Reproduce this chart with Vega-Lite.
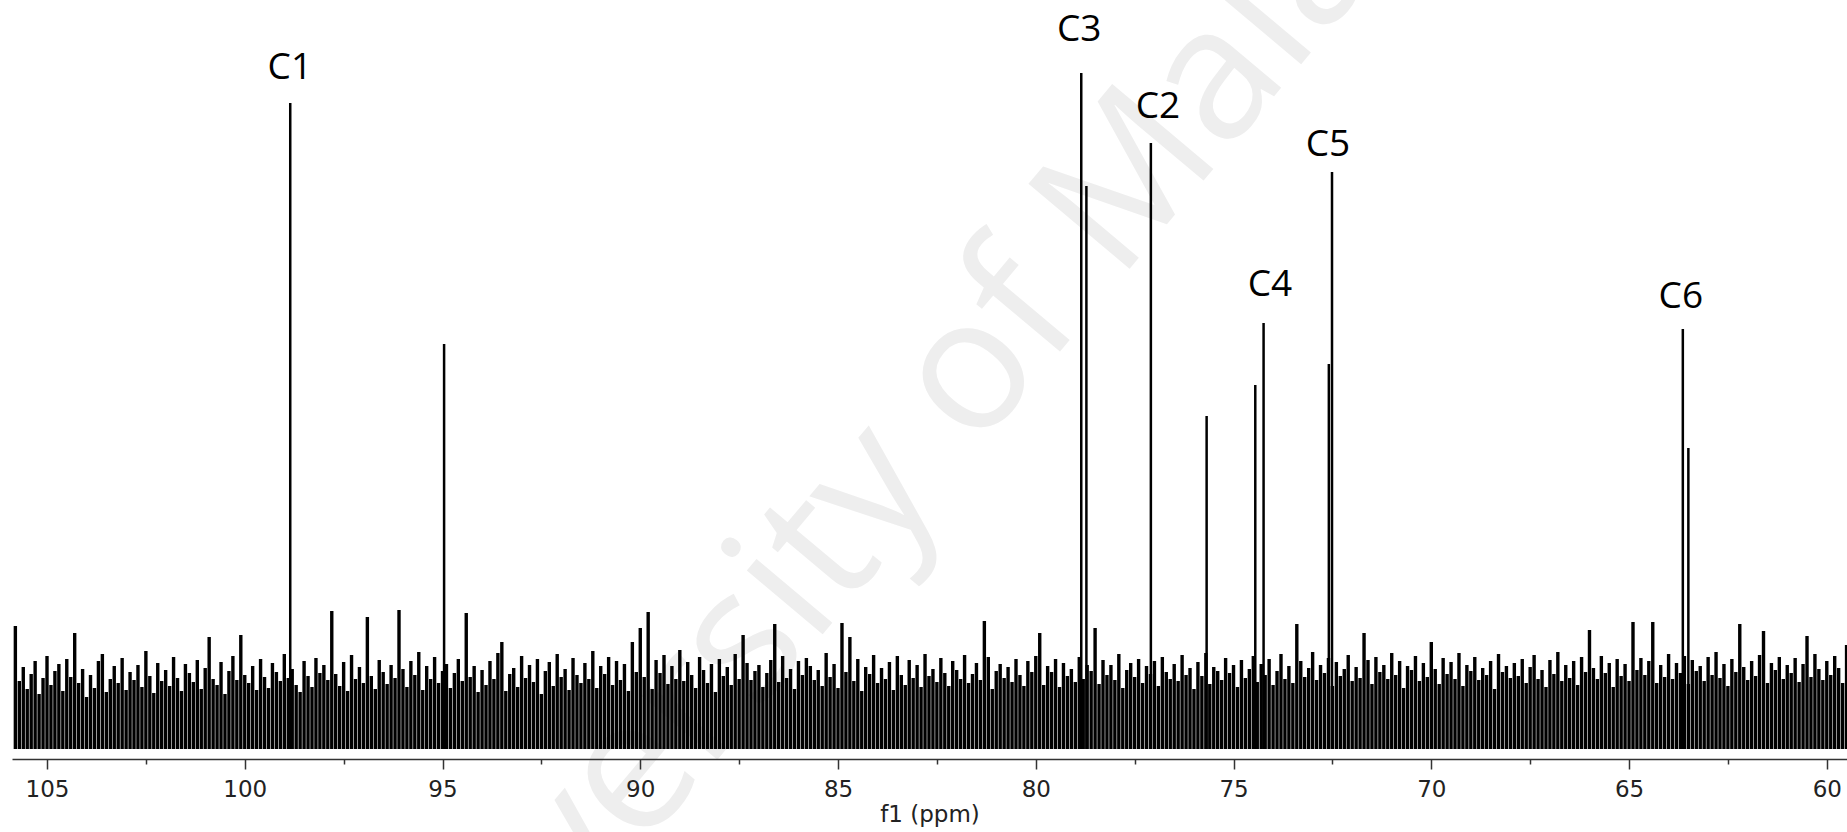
{
  "$schema": "https://vega.github.io/schema/vega-lite/v6.json",
  "autosize": "none",
  "width": 1835,
  "height": 759,
  "padding": {"left": 12, "top": 0, "right": 0, "bottom": 73},
  "background": "white",
  "config": {"view": {"stroke": null}},
  "datasets": {
    "wm": [{"p": 83.2, "v": 305, "t": "University of Malaya"}],
    "noise": [
      {"p":105.8,"v":123},{"p":105.7,"v":68},{"p":105.6,"v":82},{"p":105.5,"v":60},{"p":105.4,"v":75},{"p":105.3,"v":88},{"p":105.2,"v":55},{"p":105.1,"v":71},{"p":105.0,"v":93},
      {"p":104.9,"v":64},{"p":104.8,"v":78},{"p":104.7,"v":85},{"p":104.6,"v":58},{"p":104.5,"v":90},{"p":104.4,"v":72},{"p":104.3,"v":116},{"p":104.2,"v":66},{"p":104.1,"v":80},{"p":104.0,"v":52},
      {"p":103.9,"v":74},{"p":103.8,"v":61},{"p":103.7,"v":88},{"p":103.6,"v":95},{"p":103.5,"v":57},{"p":103.4,"v":70},{"p":103.3,"v":83},{"p":103.2,"v":66},{"p":103.1,"v":91},{"p":103.0,"v":59},
      {"p":102.9,"v":77},{"p":102.8,"v":69},{"p":102.7,"v":84},{"p":102.6,"v":62},{"p":102.5,"v":98},{"p":102.4,"v":73},{"p":102.3,"v":56},{"p":102.2,"v":86},{"p":102.1,"v":68},{"p":102.0,"v":79},
      {"p":101.9,"v":63},{"p":101.8,"v":92},{"p":101.7,"v":71},{"p":101.6,"v":58},{"p":101.5,"v":85},{"p":101.4,"v":76},{"p":101.3,"v":67},{"p":101.2,"v":89},{"p":101.1,"v":60},{"p":101.0,"v":81},
      {"p":100.9,"v":112},{"p":100.8,"v":70},{"p":100.7,"v":64},{"p":100.6,"v":87},{"p":100.5,"v":55},{"p":100.4,"v":78},{"p":100.3,"v":93},{"p":100.2,"v":69},{"p":100.1,"v":114},{"p":100.0,"v":74},
      {"p":99.9,"v":66},{"p":99.8,"v":83},{"p":99.7,"v":59},{"p":99.6,"v":90},{"p":99.5,"v":72},{"p":99.4,"v":61},{"p":99.3,"v":86},{"p":99.2,"v":77},{"p":99.1,"v":68},{"p":99.0,"v":95},
      {"p":98.9,"v":71},{"p":98.8,"v":80},{"p":98.7,"v":64},{"p":98.6,"v":57},{"p":98.5,"v":88},{"p":98.4,"v":73},{"p":98.3,"v":62},{"p":98.2,"v":91},{"p":98.1,"v":76},{"p":98.0,"v":84},
      {"p":97.9,"v":69},{"p":97.8,"v":138},{"p":97.7,"v":75},{"p":97.6,"v":63},{"p":97.5,"v":87},{"p":97.4,"v":58},{"p":97.3,"v":94},{"p":97.2,"v":70},{"p":97.1,"v":82},{"p":97.0,"v":66},
      {"p":96.9,"v":132},{"p":96.8,"v":73},{"p":96.7,"v":60},{"p":96.6,"v":89},{"p":96.5,"v":77},{"p":96.4,"v":65},{"p":96.3,"v":84},{"p":96.2,"v":71},{"p":96.1,"v":139},{"p":96.0,"v":80},
      {"p":95.9,"v":62},{"p":95.8,"v":88},{"p":95.7,"v":74},{"p":95.6,"v":97},{"p":95.5,"v":59},{"p":95.4,"v":83},{"p":95.3,"v":70},{"p":95.2,"v":92},{"p":95.1,"v":66},{"p":95.0,"v":78},
      {"p":94.9,"v":85},{"p":94.8,"v":61},{"p":94.7,"v":76},{"p":94.6,"v":90},{"p":94.5,"v":68},{"p":94.4,"v":136},{"p":94.3,"v":72},{"p":94.2,"v":83},{"p":94.1,"v":57},{"p":94.0,"v":79},
      {"p":93.9,"v":64},{"p":93.8,"v":88},{"p":93.7,"v":70},{"p":93.6,"v":96},{"p":93.5,"v":107},{"p":93.4,"v":58},{"p":93.3,"v":75},{"p":93.2,"v":81},{"p":93.1,"v":62},{"p":93.0,"v":93},
      {"p":92.9,"v":71},{"p":92.8,"v":84},{"p":92.7,"v":67},{"p":92.6,"v":90},{"p":92.5,"v":55},{"p":92.4,"v":78},{"p":92.3,"v":87},{"p":92.2,"v":63},{"p":92.1,"v":95},{"p":92.0,"v":72},
      {"p":91.9,"v":80},{"p":91.8,"v":59},{"p":91.7,"v":91},{"p":91.6,"v":74},{"p":91.5,"v":66},{"p":91.4,"v":86},{"p":91.3,"v":70},{"p":91.2,"v":98},{"p":91.1,"v":61},{"p":91.0,"v":83},
      {"p":90.9,"v":75},{"p":90.8,"v":92},{"p":90.7,"v":64},{"p":90.6,"v":88},{"p":90.5,"v":69},{"p":90.4,"v":85},{"p":90.3,"v":58},{"p":90.2,"v":107},{"p":90.1,"v":77},{"p":90.0,"v":121},
      {"p":89.9,"v":72},{"p":89.8,"v":137},{"p":89.7,"v":60},{"p":89.6,"v":89},{"p":89.5,"v":76},{"p":89.4,"v":94},{"p":89.3,"v":65},{"p":89.2,"v":83},{"p":89.1,"v":70},{"p":89.0,"v":99},
      {"p":88.9,"v":68},{"p":88.8,"v":87},{"p":88.7,"v":74},{"p":88.6,"v":61},{"p":88.5,"v":92},{"p":88.4,"v":79},{"p":88.3,"v":66},{"p":88.2,"v":85},{"p":88.1,"v":57},{"p":88.0,"v":90},
      {"p":87.9,"v":73},{"p":87.8,"v":82},{"p":87.7,"v":64},{"p":87.6,"v":95},{"p":87.5,"v":70},{"p":87.4,"v":114},{"p":87.3,"v":86},{"p":87.2,"v":69},{"p":87.1,"v":78},{"p":87.0,"v":84},
      {"p":86.9,"v":62},{"p":86.8,"v":76},{"p":86.7,"v":89},{"p":86.6,"v":125},{"p":86.5,"v":67},{"p":86.4,"v":93},{"p":86.3,"v":71},{"p":86.2,"v":80},{"p":86.1,"v":60},{"p":86.0,"v":88},
      {"p":85.9,"v":74},{"p":85.8,"v":91},{"p":85.7,"v":83},{"p":85.6,"v":69},{"p":85.5,"v":79},{"p":85.4,"v":63},{"p":85.3,"v":96},{"p":85.2,"v":72},{"p":85.1,"v":85},{"p":85.0,"v":61},
      {"p":84.9,"v":126},{"p":84.8,"v":77},{"p":84.7,"v":112},{"p":84.6,"v":68},{"p":84.5,"v":90},{"p":84.4,"v":58},{"p":84.3,"v":82},{"p":84.2,"v":75},{"p":84.1,"v":94},{"p":84.0,"v":66},
      {"p":83.9,"v":81},{"p":83.8,"v":70},{"p":83.7,"v":87},{"p":83.6,"v":59},{"p":83.5,"v":93},{"p":83.4,"v":74},{"p":83.3,"v":64},{"p":83.2,"v":89},{"p":83.1,"v":71},{"p":83.0,"v":84},
      {"p":82.9,"v":62},{"p":82.8,"v":95},{"p":82.7,"v":73},{"p":82.6,"v":80},{"p":82.5,"v":67},{"p":82.4,"v":91},{"p":82.3,"v":76},{"p":82.2,"v":63},{"p":82.1,"v":88},{"p":82.0,"v":79},
      {"p":81.9,"v":70},{"p":81.8,"v":94},{"p":81.7,"v":66},{"p":81.6,"v":75},{"p":81.5,"v":86},{"p":81.4,"v":69},{"p":81.3,"v":128},{"p":81.2,"v":92},{"p":81.1,"v":60},{"p":81.0,"v":78},
      {"p":80.9,"v":85},{"p":80.8,"v":71},{"p":80.7,"v":82},{"p":80.6,"v":67},{"p":80.5,"v":90},{"p":80.4,"v":74},{"p":80.3,"v":63},{"p":80.2,"v":88},{"p":80.1,"v":77},{"p":80.0,"v":93},
      {"p":79.9,"v":116},{"p":79.8,"v":64},{"p":79.7,"v":83},{"p":79.6,"v":77},{"p":79.5,"v":90},{"p":79.4,"v":62},{"p":79.3,"v":86},{"p":79.2,"v":73},{"p":79.1,"v":80},{"p":79.0,"v":67},
      {"p":78.9,"v":92},{"p":78.8,"v":70},{"p":78.7,"v":84},{"p":78.6,"v":78},{"p":78.5,"v":121},{"p":78.4,"v":65},{"p":78.3,"v":89},{"p":78.2,"v":74},{"p":78.1,"v":84},{"p":78.0,"v":69},
      {"p":77.9,"v":95},{"p":77.8,"v":61},{"p":77.7,"v":79},{"p":77.6,"v":86},{"p":77.5,"v":72},{"p":77.4,"v":90},{"p":77.3,"v":66},{"p":77.2,"v":83},{"p":77.1,"v":75},{"p":77.0,"v":88},
      {"p":76.9,"v":63},{"p":76.8,"v":92},{"p":76.7,"v":77},{"p":76.6,"v":70},{"p":76.5,"v":85},{"p":76.4,"v":68},{"p":76.3,"v":94},{"p":76.2,"v":74},{"p":76.1,"v":81},{"p":76.0,"v":60},
      {"p":75.9,"v":87},{"p":75.8,"v":73},{"p":75.7,"v":96},{"p":75.6,"v":65},{"p":75.5,"v":82},{"p":75.4,"v":78},{"p":75.3,"v":69},{"p":75.2,"v":91},{"p":75.1,"v":76},{"p":75.0,"v":84},
      {"p":74.9,"v":62},{"p":74.8,"v":89},{"p":74.7,"v":71},{"p":74.6,"v":80},{"p":74.5,"v":93},{"p":74.4,"v":67},{"p":74.3,"v":85},{"p":74.2,"v":74},{"p":74.1,"v":90},{"p":74.0,"v":64},
      {"p":73.9,"v":78},{"p":73.8,"v":95},{"p":73.7,"v":70},{"p":73.6,"v":83},{"p":73.5,"v":66},{"p":73.4,"v":125},{"p":73.3,"v":88},{"p":73.2,"v":72},{"p":73.1,"v":81},{"p":73.0,"v":97},
      {"p":72.9,"v":69},{"p":72.8,"v":84},{"p":72.7,"v":76},{"p":72.6,"v":91},{"p":72.5,"v":63},{"p":72.4,"v":87},{"p":72.3,"v":73},{"p":72.2,"v":80},{"p":72.1,"v":94},{"p":72.0,"v":68},
      {"p":71.9,"v":82},{"p":71.8,"v":71},{"p":71.7,"v":116},{"p":71.6,"v":89},{"p":71.5,"v":65},{"p":71.4,"v":92},{"p":71.3,"v":77},{"p":71.2,"v":84},{"p":71.1,"v":70},{"p":71.0,"v":96},
      {"p":70.9,"v":74},{"p":70.8,"v":88},{"p":70.7,"v":61},{"p":70.6,"v":83},{"p":70.5,"v":79},{"p":70.4,"v":93},{"p":70.3,"v":68},{"p":70.2,"v":86},{"p":70.1,"v":72},{"p":70.0,"v":107},
      {"p":69.9,"v":80},{"p":69.8,"v":65},{"p":69.7,"v":91},{"p":69.6,"v":75},{"p":69.5,"v":87},{"p":69.4,"v":70},{"p":69.3,"v":96},{"p":69.2,"v":63},{"p":69.1,"v":84},{"p":69.0,"v":78},
      {"p":68.9,"v":92},{"p":68.8,"v":69},{"p":68.7,"v":81},{"p":68.6,"v":74},{"p":68.5,"v":88},{"p":68.4,"v":60},{"p":68.3,"v":95},{"p":68.2,"v":77},{"p":68.1,"v":83},{"p":68.0,"v":71},
      {"p":67.9,"v":86},{"p":67.8,"v":73},{"p":67.7,"v":90},{"p":67.6,"v":66},{"p":67.5,"v":82},{"p":67.4,"v":94},{"p":67.3,"v":70},{"p":67.2,"v":79},{"p":67.1,"v":62},{"p":67.0,"v":89},
      {"p":66.9,"v":75},{"p":66.8,"v":97},{"p":66.7,"v":68},{"p":66.6,"v":84},{"p":66.5,"v":71},{"p":66.4,"v":88},{"p":66.3,"v":64},{"p":66.2,"v":92},{"p":66.1,"v":77},{"p":66.0,"v":119},
      {"p":65.9,"v":81},{"p":65.8,"v":70},{"p":65.7,"v":93},{"p":65.6,"v":76},{"p":65.5,"v":86},{"p":65.4,"v":62},{"p":65.3,"v":90},{"p":65.2,"v":73},{"p":65.1,"v":85},{"p":65.0,"v":68},
      {"p":64.9,"v":127},{"p":64.8,"v":79},{"p":64.7,"v":91},{"p":64.6,"v":74},{"p":64.5,"v":88},{"p":64.4,"v":127},{"p":64.3,"v":66},{"p":64.2,"v":84},{"p":64.1,"v":72},{"p":64.0,"v":95},
      {"p":63.9,"v":70},{"p":63.8,"v":86},{"p":63.7,"v":76},{"p":63.6,"v":93},{"p":63.5,"v":65},{"p":63.4,"v":89},{"p":63.3,"v":78},{"p":63.2,"v":83},{"p":63.1,"v":68},{"p":63.0,"v":92},
      {"p":62.9,"v":74},{"p":62.8,"v":97},{"p":62.7,"v":71},{"p":62.6,"v":85},{"p":62.5,"v":63},{"p":62.4,"v":90},{"p":62.3,"v":77},{"p":62.2,"v":125},{"p":62.1,"v":82},{"p":62.0,"v":69},
      {"p":61.9,"v":88},{"p":61.8,"v":73},{"p":61.7,"v":94},{"p":61.6,"v":118},{"p":61.5,"v":66},{"p":61.4,"v":86},{"p":61.3,"v":79},{"p":61.2,"v":92},{"p":61.1,"v":70},{"p":61.0,"v":84},
      {"p":60.9,"v":76},{"p":60.8,"v":91},{"p":60.7,"v":67},{"p":60.6,"v":85},{"p":60.5,"v":113},{"p":60.4,"v":72},{"p":60.3,"v":95},{"p":60.2,"v":80},{"p":60.1,"v":69},{"p":60.0,"v":88},
      {"p":59.9,"v":74},{"p":59.8,"v":93},{"p":59.7,"v":81},{"p":59.6,"v":66},{"p":59.5,"v":104}
    ],
    "peaks": [
      {"p":98.85,"v":646},{"p":94.96,"v":405},{"p":78.85,"v":676},{"p":78.72,"v":563},
      {"p":77.09,"v":606},{"p":75.68,"v":333},{"p":74.45,"v":364},{"p":74.24,"v":426},
      {"p":72.59,"v":385},{"p":72.51,"v":577},{"p":63.64,"v":420},{"p":63.50,"v":301}
    ],
    "labels": [
      {"p":98.86,"v":681,"t":"C1"},{"p":78.90,"v":719,"t":"C3"},{"p":76.91,"v":642,"t":"C2"},
      {"p":72.61,"v":604,"t":"C5"},{"p":74.08,"v":464,"t":"C4"},{"p":63.69,"v":452,"t":"C6"}
    ]
  },
  "encoding": {
    "x": {
      "field": "p", "type": "quantitative",
      "scale": {"domain": [59.489, 105.885], "reverse": true, "nice": false, "zero": false},
      "axis": {
        "title": "f1 (ppm)",
        "zindex": 1,
        "values": [60,62.5,65,67.5,70,72.5,75,77.5,80,82.5,85,87.5,90,92.5,95,97.5,100,102.5,105],
        "labelExpr": "datum.value % 5 === 0 ? format(datum.value, 'd') : ''",
        "tickSize": {"condition": {"test": "datum.value % 5 === 0", "value": 10}, "value": 5},
        "tickWidth": 1.5, "tickColor": "#333333",
        "domainColor": "#333333", "domainWidth": 1.5,
        "labelFont": "DejaVu Sans", "labelFontSize": 23, "labelColor": "#222222",
        "labelPadding": 9, "labelOverlap": false, "labelFlush": false,
        "titleFont": "DejaVu Sans", "titleFontSize": 23, "titleFontWeight": "normal", "titleColor": "#222222",
        "titlePadding": 2, "grid": false
      }
    },
    "y": {
      "field": "v", "type": "quantitative",
      "scale": {"domain": [-10, 749], "nice": false, "zero": false},
      "axis": null
    }
  },
  "layer": [
    {
      "data": {"name": "wm"},
      "mark": {"type": "text", "angle": 310, "fontSize": 185, "font": "Open Sans", "color": "#eeeeee", "align": "center", "baseline": "middle"},
      "encoding": {"text": {"field": "t"}}
    },
    {
      "data": {"name": "noise"},
      "mark": {"type": "rule", "color": "#000000", "strokeWidth": 3.4, "clip": true},
      "encoding": {"y2": {"datum": 0}}
    },
    {
      "data": {"name": "peaks"},
      "mark": {"type": "rule", "color": "#000000", "strokeWidth": 2.5, "clip": true},
      "encoding": {"y2": {"datum": 0}}
    },
    {
      "data": {"name": "labels"},
      "mark": {"type": "text", "font": "Open Sans", "fontSize": 37, "color": "#000000", "align": "center", "baseline": "middle"},
      "encoding": {"text": {"field": "t"}}
    }
  ]
}
